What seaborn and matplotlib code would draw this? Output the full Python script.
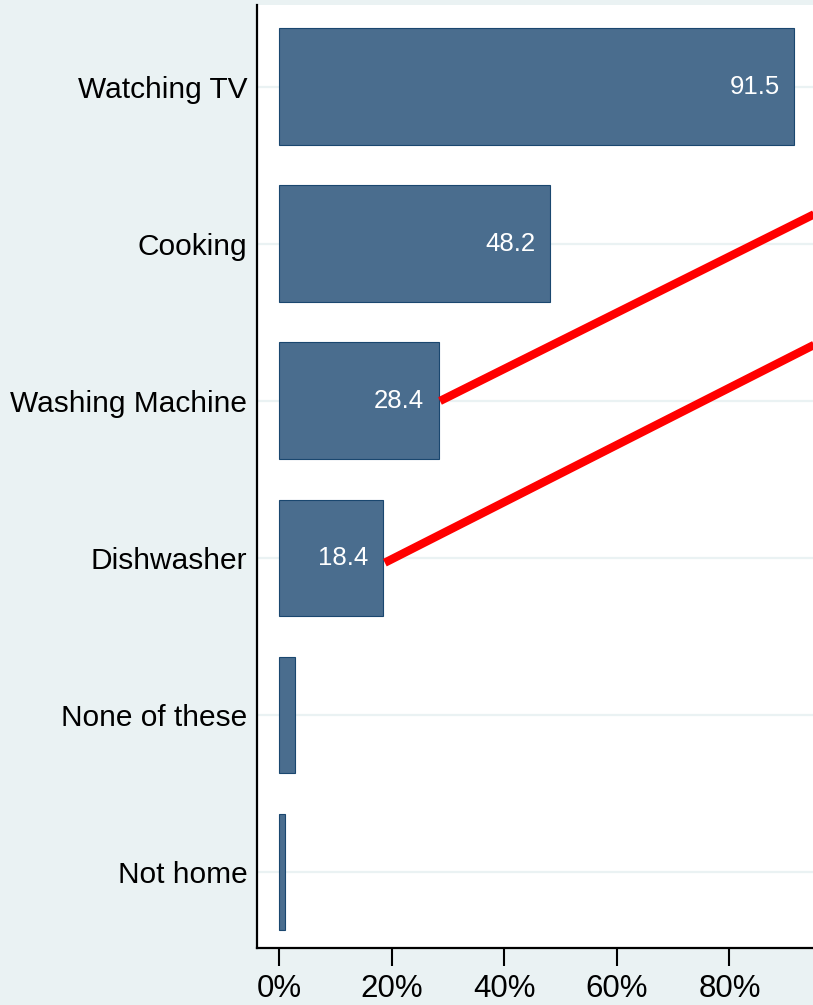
import matplotlib
matplotlib.use("Agg")
import matplotlib.pyplot as plt
import seaborn as sns
import pandas as pd

# data
activities = ["Watching TV", "Cooking", "Washing Machine", "Dishwasher", "None of these", "Not home"]
shares = [91.5, 48.2, 28.4, 18.4, 2.9, 1.1]
labelled = [True, True, True, True, False, False]
tick_vals = [0, 20, 40, 60, 80]
tick_text = ["0%", "20%", "40%", "60%", "80%"]

bg = "#EAF2F3"
fill = "#4A6D8E"
edge = "#1A476F"

df = pd.DataFrame({"activity": activities, "share": shares})

sns.set_style("white")
plt.rcParams["font.family"] = ["Liberation Sans", "DejaVu Sans"]

fig = plt.figure(figsize=(8.13, 10.05), dpi=100, facecolor=bg)
# axes runs past the right edge, the reference is a crop
ax = fig.add_axes([257 / 813, 57 / 1005, 607 / 813, 943 / 1005])
ax.set_facecolor("white")

for i in range(len(activities)):
    ax.axhline(i, color=bg, lw=1.6, zorder=0)

sns.barplot(data=df, x="share", y="activity", orient="h", width=0.745,
            color=fill, saturation=1, edgecolor=edge, linewidth=0.8, ax=ax, zorder=2)

for i, (v, show) in enumerate(zip(shares, labelled)):
    if show:
        ax.text(v - 2.6, i, f"{v:.1f}", color="white", fontsize=18.5,
                ha="right", va="center", zorder=3)

# red annotation lines from the bar ends, running off the picture
x1 = shares[2] + 0.2
ax.plot([x1, 120], [2, 2 - (120 - x1) * 0.0179],
        color="red", lw=6, clip_on=False, zorder=4, solid_capstyle="butt")
x2 = shares[3] + 0.4
ax.plot([x2, 120], [3.03, 3.03 - (120 - x2) * 0.0182],
        color="red", lw=6, clip_on=False, zorder=4, solid_capstyle="butt")

ax.set_xlim(-3.9, 103.9)
ax.set_ylim(5.484, -0.522)
ax.set_xticks(tick_vals)
ax.set_xticklabels(tick_text, fontsize=22.5, color="black")
ax.tick_params(axis="x", length=13, width=1.5, color="black", pad=6, direction="out", bottom=True)
ax.tick_params(axis="y", length=0, pad=7, labelsize=21.5, labelcolor="black")
ax.set_xlabel("")
ax.set_ylabel("")

for s in ["top", "right"]:
    ax.spines[s].set_visible(False)
for s in ["left", "bottom"]:
    ax.spines[s].set_color("black")
    ax.spines[s].set_linewidth(1.6)

fig.savefig("out.png", dpi=100, facecolor=bg)
